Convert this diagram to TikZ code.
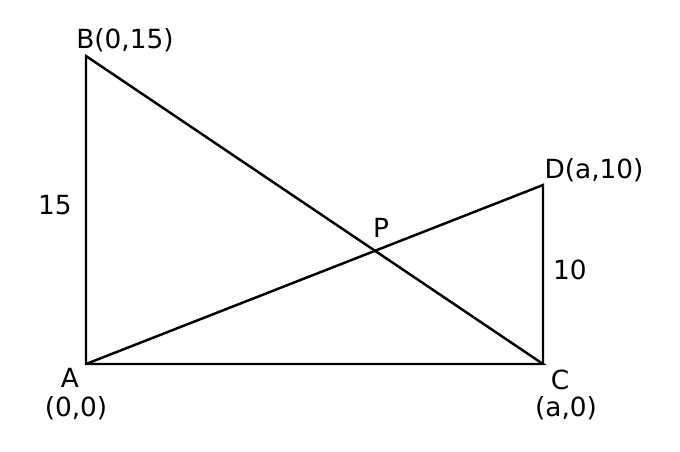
\documentclass[tikz,border=0pt]{standalone}
\usepackage{fontspec}
\setmainfont{DejaVu Sans}
\usetikzlibrary{positioning}

\begin{document}
\begin{tikzpicture}[
        x=0.02cm, y=-0.02cm,
        seg/.style = {line width=1.4pt},
        lbl/.style = {font=\fontsize{15}{17}\selectfont}
    ]
    \useasboundingbox (0,0) rectangle (680,451);

    \coordinate (A) at (86,364);
    \coordinate (B) at (86,56);
    \coordinate (C) at (543,364);
    \coordinate (D) at (543,185);
    \coordinate (P) at (374,251);

    % Sides
    \draw[seg] (A) -- (B) -- (C) -- cycle;
    \draw[seg] (A) -- (D) -- (C);

    % Labels
    \node[lbl] (lB) at (125,40) {B(0,15)};
    \node[lbl] (l15) at (55,205) {15};
    \node[lbl] (lD) at (594,170) {D(a,10)};
    \node[lbl] (lP) at (381,228) {P};
    \node[lbl] (l10) at (570,270) {10};
    \node[lbl] (lA) at (70,378) {A};
    \node[lbl] (lA0) at (76,408) {(0,0)};
    \node[lbl] (lC) at (560,380) {C};
    \node[lbl] (lC0) at (566,408) {(a,0)};
\end{tikzpicture}
\end{document}
